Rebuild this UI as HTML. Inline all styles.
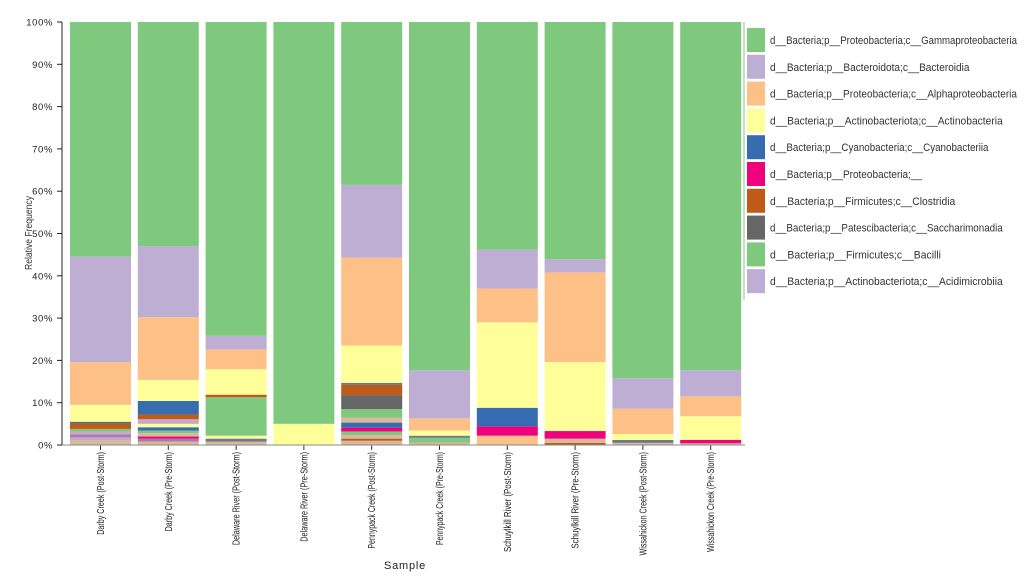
<!DOCTYPE html>
<html><head><meta charset="utf-8"><style>
html,body{margin:0;padding:0;background:#fff;width:1024px;height:576px;overflow:hidden}
svg text{font-family:"Liberation Sans",sans-serif}
</style></head><body>
<svg id="s" width="1024" height="576" xmlns="http://www.w3.org/2000/svg"></svg>
<script>
const C={g:'#7fc97f',b:'#beaed4',a:'#fdc086',y:'#ffff99',bl:'#386cb0',p:'#f0027f',br:'#bf5b17',dg:'#666666',t:'#d9b99b',l:'#c8a8c8',pu:'#a87ca8',gb:'#6a7a8a'};
const bars=[
[['t',1],['l',1.8],['pu',2.5],['l',3.2],['g',3.8],['br',5],['dg',5.5],['y',9.5],['a',19.6],['b',44.5],['g',100]],
[['t',0.8],['pu',1.5],['p',2],['t',2.8],['g',3.4],['bl',4.2],['y',5],['l',6.1],['br',7.2],['bl',10.4],['y',15.4],['a',30.2],['b',47],['g',100]],
[['t',0.8],['gb',1.5],['y',2.2],['g',11.3],['br',11.9],['y',17.9],['a',22.6],['b',25.8],['g',100]],
[['y',5],['g',100]],
[['t',1],['br',1.5],['t',2.3],['g',3.2],['p',4.1],['bl',5.3],['t',6.5],['g',8.5],['dg',11.8],['br',14.2],['gb',14.7],['y',23.5],['a',44.3],['b',61.5],['g',100]],
[['t',0.6],['g',1.7],['gb',2.2],['y',3.4],['a',6.3],['b',17.7],['g',100]],
[['a',2.2],['p',4.4],['bl',8.8],['y',29],['a',37],['b',46.2],['g',100]],
[['br',0.5],['t',1.5],['p',3.3],['y',19.6],['a',40.8],['b',43.9],['g',100]],
[['t',0.5],['gb',1.2],['y',2.6],['a',8.6],['b',15.8],['g',100]],
[['t',0.4],['p',1.2],['y',6.8],['a',11.5],['b',17.7],['g',100]]];
const names=['Darby Creek (Post-Storm)','Darby Creek (Pre-Storm)','Delaware River (Post-Storm)','Delaware River (Pre-Storm)','Pennypack Creek (Post-Storm)','Pennypack Creek (Pre-Storm)','Schuylkill River (Post-Storm)','Schuylkill River (Pre-Storm)','Wissahickon Creek (Post-Storm)','Wissahickon Creek (Pre-Storm)'];
const Y0=445,K=4.23;let h='';
bars.forEach((b,i)=>{const x=70+i*67.8;let prev=0;
b.forEach(([c,t])=>{const y1=Y0-t*K,y2=Y0-prev*K;h+=`<rect x="${x}" y="${y1}" width="61" height="${y2-y1}" fill="${C[c]}"/>`;prev=t;});
const cx=x+30.5;h+=`<line x1="${cx}" y1="445" x2="${cx}" y2="450" stroke="#333"/>`;
const L=names[i].length*3.45;
h+=`<text transform="translate(${cx+3.5},452) rotate(-90)" text-anchor="end" font-size="10" textLength="${L}" lengthAdjust="spacingAndGlyphs" fill="#222">${names[i]}</text>`;});
h+=`<line x1="62" y1="22" x2="62" y2="445" stroke="#222"/><line x1="62" y1="445" x2="745" y2="445" stroke="#888"/>`;
for(let p=0;p<=100;p+=10){const y=Y0-p*K;h+=`<line x1="57" y1="${y}" x2="62" y2="${y}" stroke="#222"/><text x="53" y="${y+3.5}" text-anchor="end" font-size="9.5" letter-spacing="0.6" fill="#222">${p}%</text>`;}
h+=`<text transform="translate(32,233) rotate(-90)" text-anchor="middle" font-size="10" textLength="74" lengthAdjust="spacingAndGlyphs" fill="#333">Relative Frequency</text>`;
h+=`<text x="405" y="569" text-anchor="middle" font-size="11" letter-spacing="0.8" fill="#222">Sample</text>`;
const leg=[['g','Proteobacteria;c__Gammaproteobacteria'],['b','Bacteroidota;c__Bacteroidia'],['a','Proteobacteria;c__Alphaproteobacteria'],['y','Actinobacteriota;c__Actinobacteria'],['bl','Cyanobacteria;c__Cyanobacteriia'],['p','Proteobacteria;__'],['br','Firmicutes;c__Clostridia'],['dg','Patescibacteria;c__Saccharimonadia'],['g','Firmicutes;c__Bacilli'],['b','Actinobacteriota;c__Acidimicrobiia']];
h+=`<line x1="744" y1="22" x2="744" y2="300" stroke="#7fc97f" stroke-width="1"/>`;
leg.forEach(([c,t],i)=>{const y=28+i*26.8;const s='d__Bacteria;p__'+t;h+=`<rect x="747" y="${y}" width="18" height="24" fill="${C[c]}"/><text x="770" y="${y+16}" font-size="11" textLength="${s.length*4.75}" lengthAdjust="spacingAndGlyphs" fill="#333">${s}</text>`;});
document.getElementById('s').innerHTML=h;
</script>
</body></html>
